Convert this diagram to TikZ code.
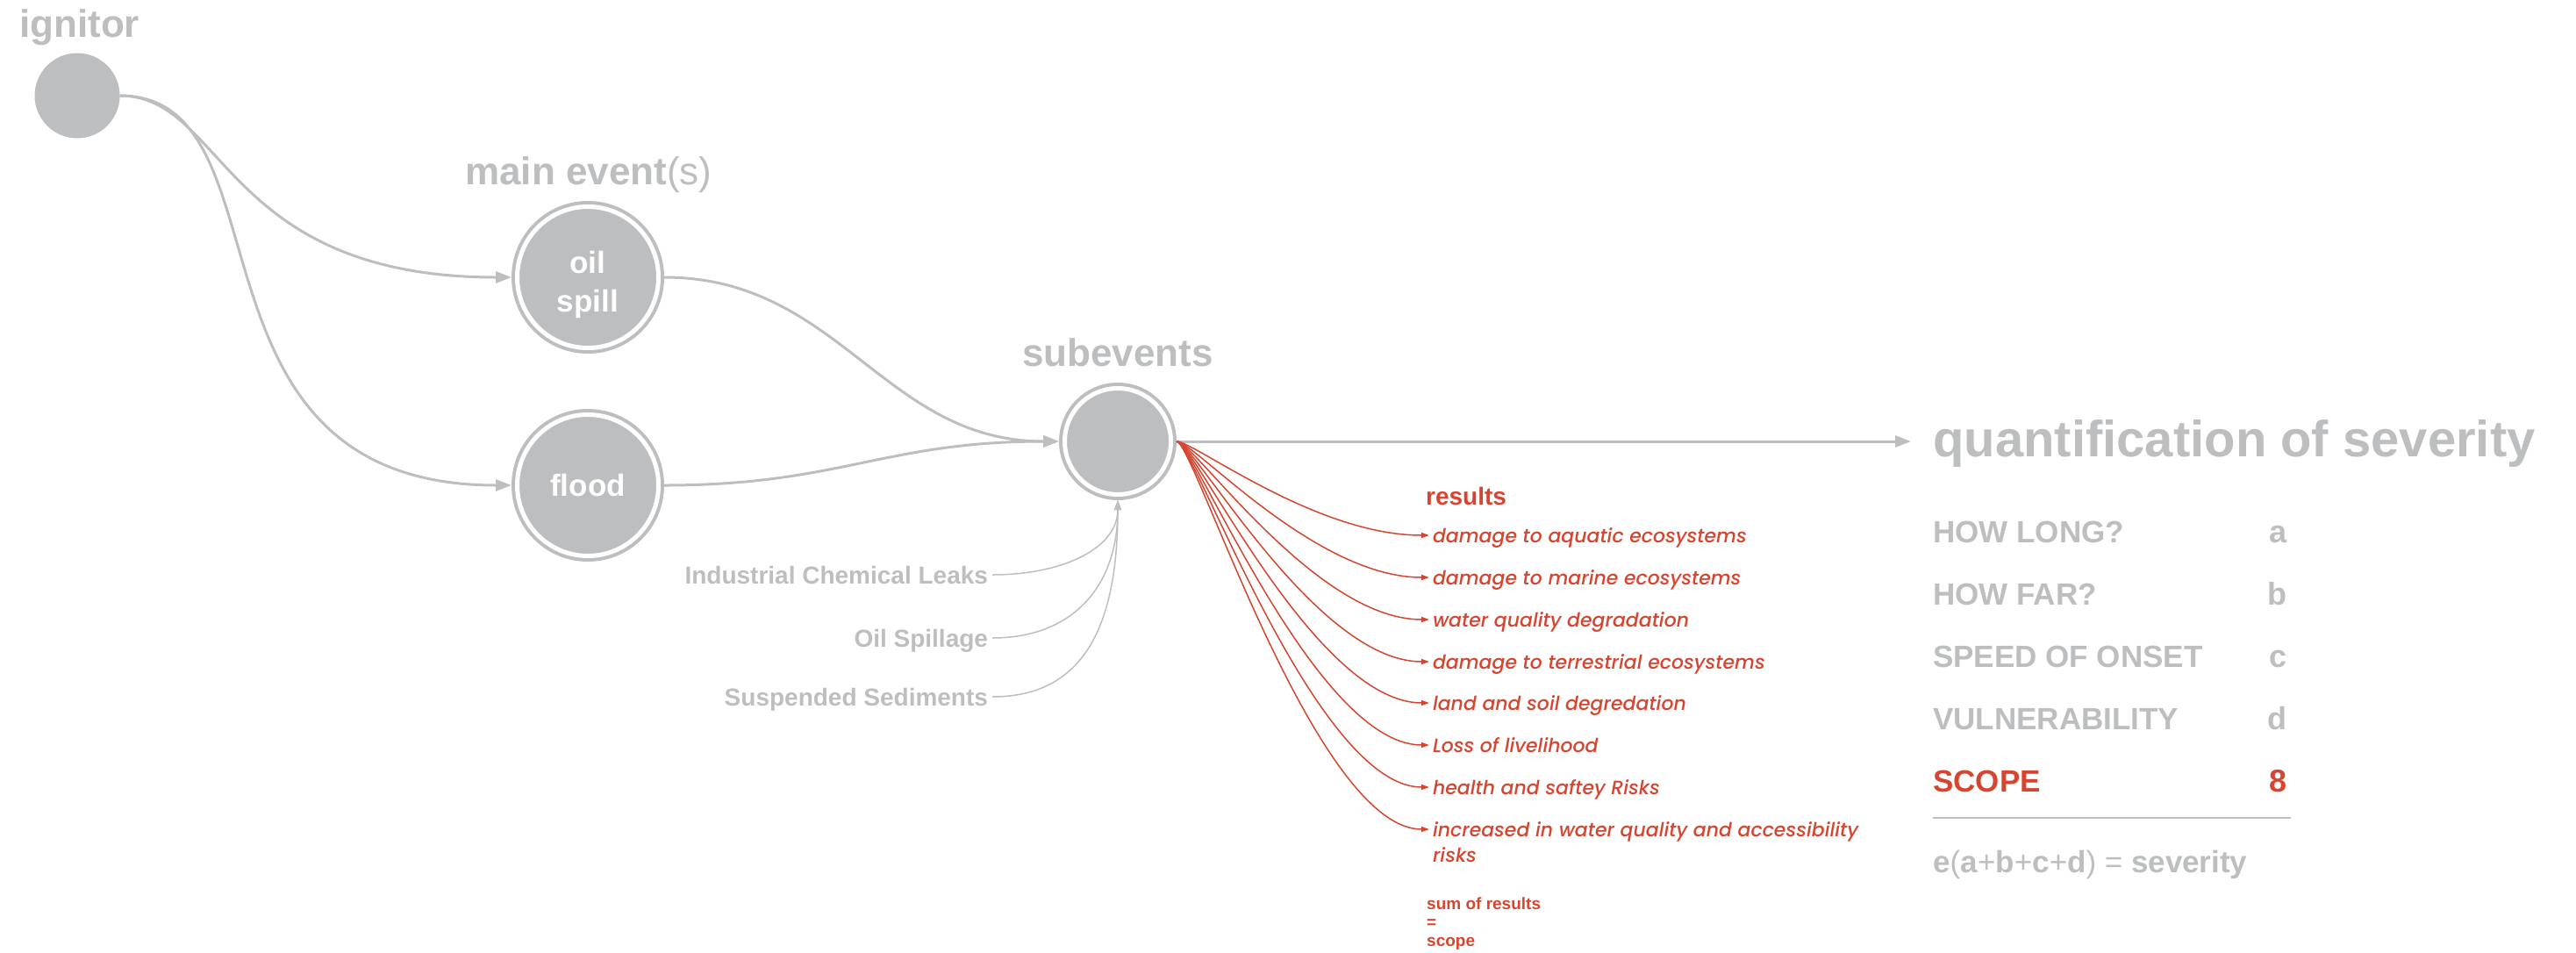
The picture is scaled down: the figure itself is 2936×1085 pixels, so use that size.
\documentclass[tikz,border=0pt]{standalone}
\usepackage{fontspec}
\setmainfont{Liberation Sans}
\newfontfamily\itemfont{Poppins}[UprightFont=* Medium, ItalicFont=* Medium Italic]
\usetikzlibrary{arrows.meta}
\definecolor{evgray}{HTML}{BCBEC0}
\definecolor{evred}{HTML}{D64530}
\newcommand\setfs[1]{\fontsize{#1}{#1}\selectfont}

\begin{document}
\begin{tikzpicture}[x=1pt,y=-1pt,
  heading/.style={anchor=base west, inner sep=0, text=evgray, font={\setfs{44}\bfseries}},
  evdisk/.style={circle, fill=evgray, inner sep=0, outer sep=0},
  ringed/.style={circle, fill=evgray, draw=evgray, double=white, double distance=5,
    line width=4, inner sep=0, outer sep=6.5, text=white, align=center},
  conn/.style={draw=evgray, line width=3, -{Triangle[length=18,width=13]}},
  thinconn/.style={draw=evgray, line width=1.5, -{Triangle[length=11,width=8]}},
  resconn/.style={draw=evred, line width=1.5, -{Triangle[length=9,width=6]}},
  sublabel/.style={anchor=base east, inner sep=0, outer sep=5, text height=20, text depth=0,
    text=evgray, font={\setfs{28}\bfseries}},
  resitem/.style={anchor=base west, inner sep=0, outer sep=4, text height=16, text depth=0,
    text=evred, font={\itemfont\itshape\setfs{22}}},
  rowlabel/.style={anchor=base west, inner sep=0, text=evgray, font={\setfs{35}\bfseries}},
  rowval/.style={anchor=base east, inner sep=0, text=evgray, font={\setfs{36}\bfseries}},
]
\useasboundingbox (0,0) rectangle (2936,1085);

% ignitor
\node[heading] (tign) at (22,42) {ignitor};
\node[evdisk, minimum size=97] (ign) at (88,109) {};

% main events
\node[heading] (tmain) at (530,210) {main event{\mdseries(s)}};
\node[ringed, minimum size=161, text height=78, text depth=0,
  font={\fontsize{35}{44}\selectfont\bfseries}] (oil) at (670,316) {oil\\spill};
\node[ringed, minimum size=161, font={\setfs{35}\bfseries}] (flood) at (670,553) {flood};

% subevents
\node[heading] (tsub) at (1165,417) {subevents};
\node[ringed, minimum size=121] (sub) at (1274,503) {};

\draw[conn] (ign.east) .. controls +(120,0) and +(-330,0) .. (oil.west);
\draw[conn] (ign.east) .. controls +(200,0) and +(-390,0) .. (flood.west);
\draw[conn] (oil.east) .. controls +(200,0) and +(-200,0) .. (sub.west);
\draw[conn] (flood.east) .. controls +(200,0) and +(-200,0) .. (sub.west);

% contributing sources
\node[sublabel] (icl) at (1131,665) {Industrial Chemical Leaks};
\node[sublabel] (osp) at (1131,737) {Oil Spillage};
\node[sublabel] (ssd) at (1131,804) {Suspended Sediments};
\draw[thinconn] (icl.east) .. controls +(80,0) and +(0,55) .. (sub.south);
\draw[thinconn] (osp.east) .. controls +(90,0) and +(0,100) .. (sub.south);
\draw[thinconn] (ssd.east) .. controls +(100,0) and +(0,150) .. (sub.south);

% severity
\coordinate (qin) at (2178,503);
\draw[conn] (sub.east) -- (qin);
\node[heading, font={\setfs{58}\bfseries}] (quant) at (2203,520) {quantification of severity};

\node[rowlabel] (hl) at (2203,618) {HOW LONG?};
\node[rowlabel] (hf) at (2203,689) {HOW FAR?};
\node[rowlabel] (so) at (2203,760) {SPEED OF ONSET};
\node[rowlabel] (vu) at (2203,831) {VULNERABILITY};
\node[rowlabel, text=evred] (sc) at (2203,902) {SCOPE};
\node[rowval] (va) at (2607,618) {a};
\node[rowval] (vb) at (2607,689) {b};
\node[rowval] (vc) at (2607,760) {c};
\node[rowval] (vd) at (2607,831) {d};
\node[rowval, text=evred] (ve) at (2607,902) {8};
\draw[evgray, line width=2] (2203,932) -- (2611,932);
\node[rowlabel, font={\setfs{35}\mdseries}] (form) at (2203,994)
  {\textbf{e}(\textbf{a}+\textbf{b}+\textbf{c}+\textbf{d}) = \textbf{severity}};

% results
\node[anchor=base west, inner sep=0, text=evred, font={\setfs{28}\bfseries}] (tres) at (1625,575) {results};
\node[resitem] (r1) at (1629,618) {damage to aquatic ecosystems};
\node[resitem] (r2) at (1629,666) {damage to marine ecosystems};
\node[resitem] (r3) at (1629,714) {water quality degradation};
\node[resitem] (r4) at (1629,762) {damage to terrestrial ecosystems};
\node[resitem] (r5) at (1629,809) {land and soil degredation};
\node[resitem] (r6) at (1629,857) {Loss of livelihood};
\node[resitem] (r7) at (1629,905) {health and saftey Risks};
\node[resitem] (r8) at (1629,953) {increased in water quality and accessibility};
\node[resitem] (r8b) at (1629,982) {risks};
\foreach \r in {r1,r2,r3,r4,r5,r6,r7,r8}
  \draw[resconn] (sub.east) .. controls +(20,0) and +(-130,0) .. (\r.west);

\node[anchor=north west, inner sep=0, align=left, text=evred,
  font={\fontsize{19}{21}\selectfont\bfseries}] (sumres) at (1626,1023) {sum of results\\=\\scope};
\end{tikzpicture}
\end{document}
